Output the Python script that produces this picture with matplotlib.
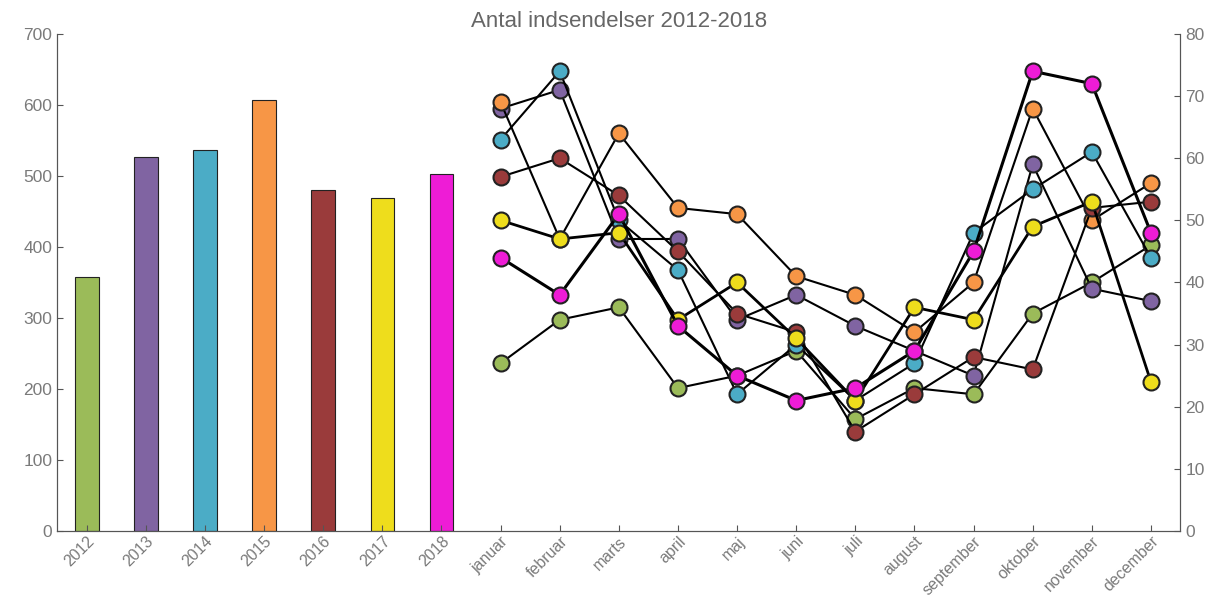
import numpy as np
import matplotlib.pyplot as plt

plt.rcParams['font.family'] = ['Liberation Sans', 'DejaVu Sans']

years = ['2012', '2013', '2014', '2015', '2016', '2017', '2018']
totals = [357, 527, 537, 607, 480, 469, 503]
months = ['januar', 'februar', 'marts', 'april', 'maj', 'juni', 'juli',
          'august', 'september', 'oktober', 'november', 'december']

m2012 = [27, 34, 36, 23, 25, 29, 18, 23, 22, 35, 40, 46]
m2013 = [68, 71, 47, 47, 34, 38, 33, 29, 25, 59, 39, 37]
m2014 = [63, 74, 50, 42, 22, 30, 21, 27, 48, 55, 61, 44]
m2015 = [69, 47, 64, 52, 51, 41, 38, 32, 40, 68, 50, 56]
m2016 = [57, 60, 54, 45, 35, 32, 16, 22, 28, 26, 52, 53]
m2017 = [50, 47, 48, 34, 40, 31, 21, 36, 34, 49, 53, 24]
m2018 = [44, 38, 51, 33, 25, 21, 23, 29, 45, 74, 72, 48]
monthly = [m2012, m2013, m2014, m2015, m2016, m2017, m2018]

colors = ['#9BBB59', '#8064A2', '#4BACC6', '#F79646', '#9A3B3B', '#EEDD1C', '#EE1CD6']
widths = [1.5, 1.5, 1.5, 1.5, 1.5, 2.0, 2.2]

fig = plt.figure(figsize=(12.17, 6.01), dpi=100)
ax = fig.add_axes([0.047, 0.1165, 0.923, 0.827])
ax2 = ax.twinx()

xb = np.arange(len(years))
ax.bar(xb, totals, width=0.4, color=colors, edgecolor='#222222', linewidth=0.8)

xm = np.arange(len(months)) + len(years)
for vals, c, lw in zip(monthly, colors, widths):
    ax2.plot(xm, vals, color='black', lw=lw, marker='o', markersize=11.5,
             markerfacecolor=c, markeredgecolor='#222222', markeredgewidth=1.5)

ax.set_xlim(-0.5, len(years) + len(months) - 0.5)
ax.set_ylim(0, 700)
ax2.set_ylim(0, 80)
ax.set_yticks(range(0, 701, 100))
ax2.set_yticks(range(0, 81, 10))
ax.set_xticks(np.arange(len(years) + len(months)))
ax.set_xticklabels(years + months, rotation=45, ha='right', rotation_mode='anchor')

for a in (ax, ax2):
    a.spines['top'].set_visible(False)
    for s in ('left', 'right', 'bottom'):
        a.spines[s].set_color('#555555')
    a.tick_params(direction='in', length=4, colors='#555555',
                  labelcolor='#7a7a7a', labelsize=12.5)
ax.tick_params(axis='x', labelsize=11.5, pad=2)

ax.set_title('Antal indsendelser 2012-2018', color='#666666', fontsize=16, pad=5)

fig.savefig('out.png', dpi=100)
